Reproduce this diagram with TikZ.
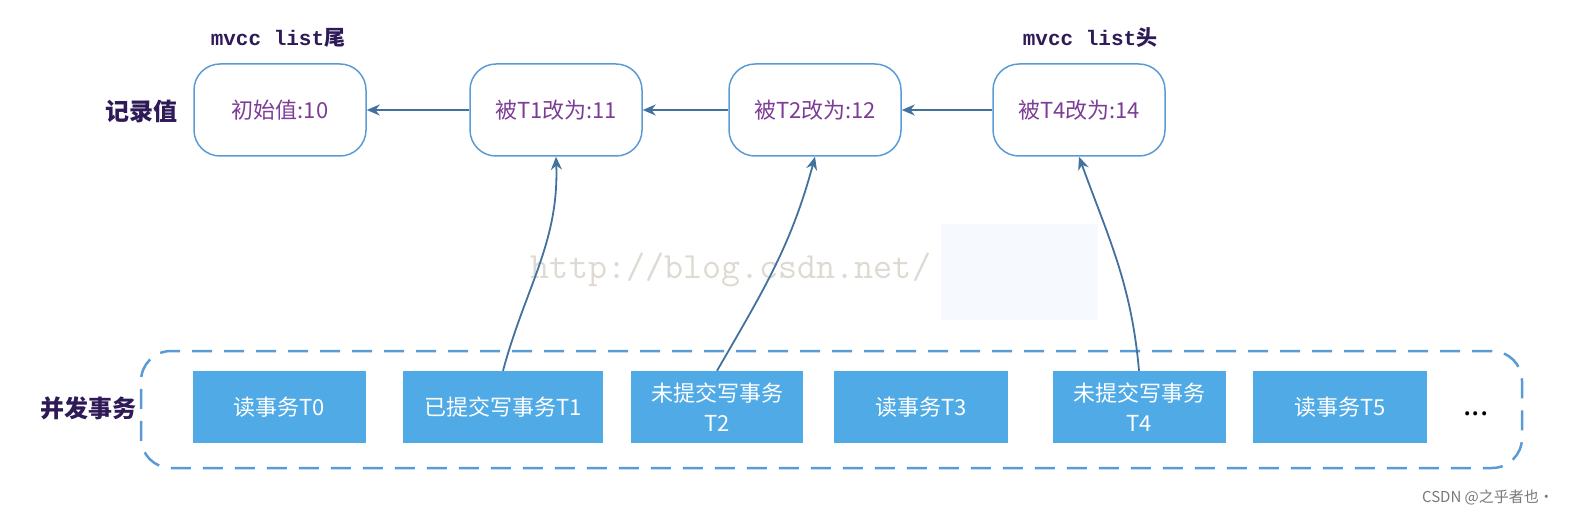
\documentclass[tikz,border=0pt]{standalone}
\usepackage{fontspec}
\setmainfont{Noto Sans CJK SC}
\newfontfamily\tagmono{Liberation Mono}
\usetikzlibrary{arrows.meta,positioning}
\definecolor{BoxLine}{RGB}{91, 155, 213}
\definecolor{LinkBlue}{RGB}{65, 113, 156}
\definecolor{ValPurple}{RGB}{125, 60, 150}
\definecolor{TagPurple}{RGB}{46, 26, 87}
\definecolor{TxBlue}{RGB}{79, 170, 230}
\definecolor{WmGray}{RGB}{222, 218, 210}
\definecolor{WmBlue}{RGB}{246, 249, 253}
\definecolor{SigGray}{RGB}{120, 120, 120}

\begin{document}
\begin{tikzpicture}[x=1pt, y=-1pt, font=\fontsize{22}{30}\selectfont,
  verbox/.style={draw=BoxLine, line width=1.5pt, rounded corners=26pt, minimum width=172pt, minimum height=92pt, text=ValPurple},
  txbox/.style={fill=TxBlue, text=white, minimum height=72pt, align=center, inner sep=2pt},
  groupbox/.style={draw=BoxLine, line width=2.5pt, dash pattern=on 20pt off 12pt, rounded corners=30pt},
  link/.style={draw=LinkBlue, line width=1.8pt, -{Stealth[length=13pt,width=11pt]}},
  tag/.style={text=TagPurple, font=\fontsize{24}{28}\selectfont\bfseries}]
  \useasboundingbox (0,0) rectangle (1580,516);

  % Watermark
  \fill[WmBlue] (941,224) rectangle (1098,320);
  \node[text=WmGray, font=\ttfamily\fontsize{37}{40}\selectfont] (wm) at (731,270) {http://blog.csdn.net/};

  % Version list
  \node[verbox] (v10) at (280,110) {初始值:10};
  \node[verbox] (v11) at (556,110) {被T1改为:11};
  \node[verbox] (v12) at (815,110) {被T2改为:12};
  \node[verbox] (v14) at (1079,110) {被T4改为:14};
  \foreach \a/\b in {v11/v10, v12/v11, v14/v12}
    \draw[link] (\a) -- (\b);

  \node[tag, font=\fontsize{21}{24}\selectfont\bfseries] (tail) at (278,38) {{\tagmono mvcc list}尾};
  \node[tag, font=\fontsize{21}{24}\selectfont\bfseries] (head) at (1090,38) {{\tagmono mvcc list}头};
  \node[tag] (rec) at (141,111) {记录值};

  % Concurrent transactions
  \node[groupbox, minimum width=1381pt, minimum height=117pt] (grp) at (831.5,409.5) {};
  \node[tag] (conc) at (88,408) {并发事务};
  \node[txbox, minimum width=173pt] (t0) at (279,407) {读事务T0};
  \node[txbox, minimum width=200pt] (t1) at (503,407) {已提交写事务T1};
  \node[txbox, minimum width=172pt] (t2) at (717,407) {未提交写事务\\T2};
  \node[txbox, minimum width=174pt] (t3) at (921,407) {读事务T3};
  \node[txbox, minimum width=173pt] (t4) at (1139,407) {未提交写事务\\T4};
  \node[txbox, minimum width=174pt] (t5) at (1340,407) {读事务T5};
  \node[font=\fontsize{30}{30}\selectfont] (more) at (1476,414) {...};

  % Writers point to their versions
  \draw[link] (t1.north) to[out=75, in=-88] (v11.south);
  \draw[link] (t2.north) to[out=60, in=-105] (v12.south);
  \draw[link] (t4.north) to[out=95, in=-70] (v14.south);

  \node[text=SigGray, font=\fontsize{15}{18}\selectfont] (sig) at (1488,497) {CSDN @之乎者也·};
\end{tikzpicture}
\end{document}
